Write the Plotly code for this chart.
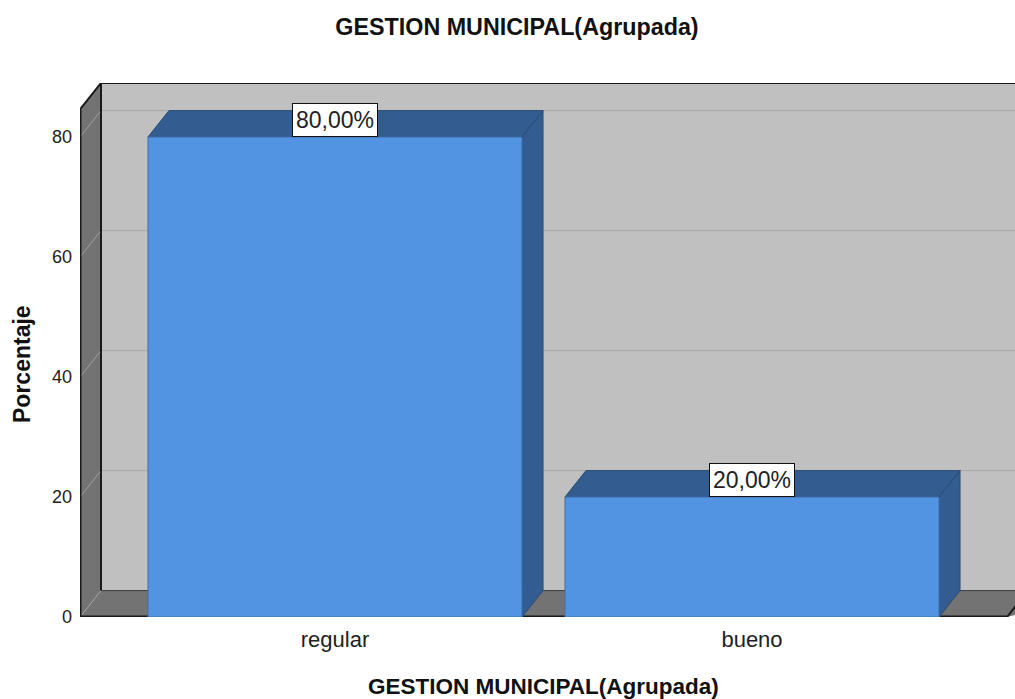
import plotly.graph_objects as go

# data
categorias = ["regular", "bueno"]
porcentajes = [80.0, 20.0]
etiquetas = ["80,00%", "20,00%"]
y_ticks = [0, 20, 40, 60, 80]
titulo = "GESTION MUNICIPAL(Agrupada)"

W, H = 1015, 699
ML, MT, MB = 80, 83, 82
PW, PH = W - ML, H - MT - MB

# 3D look settings
DX = 21 / 417      # depth offset in x units
DY = 4.4           # depth offset in y units
BAR_W = 0.897
X_LO, X_HI = -0.6115, 1.6307
FRONT_R = 1.6115
Y_MAX = 89.0
WALL_TOP = Y_MAX - DY

WALL = "#C0C0C0"
SIDE = "#737373"
FRONT = "#5294E2"
DARK = "#335D91"
FONT = "Arial, Liberation Sans"


def poly(pts):
    return "M " + " L ".join(f"{x},{y}" for x, y in pts) + " Z"


def seg(x0, y0, x1, y1, color="#1a1a1a", width=2):
    return dict(type="line", xref="x", yref="y", x0=x0, y0=y0, x1=x1, y1=y1,
                line=dict(color=color, width=width), layer="below")


def px_x(x):  # pixel -> paper x
    return (x - ML) / PW


def px_y(y):  # pixel -> paper y
    return (H - MB - y) / PH


shapes = []
# back wall
shapes.append(dict(type="path", xref="x", yref="y", layer="below",
                   path=poly([(X_LO + DX, DY), (X_LO + DX, Y_MAX), (FRONT_R + DX + 0.2, Y_MAX), (FRONT_R + DX + 0.2, DY)]),
                   fillcolor=WALL, line=dict(width=0)))
# gridlines on back wall
for t in y_ticks[1:]:
    shapes.append(seg(X_LO + DX, t + DY, FRONT_R + DX + 0.2, t + DY, color="#A9A9A9", width=1))
# left wall
shapes.append(dict(type="path", xref="x", yref="y", layer="below",
                   path=poly([(X_LO, 0), (X_LO, WALL_TOP), (X_LO + DX, Y_MAX), (X_LO + DX, DY)]),
                   fillcolor=SIDE, line=dict(width=0)))
# floor
shapes.append(dict(type="path", xref="x", yref="y", layer="below",
                   path=poly([(X_LO, 0), (X_LO + DX, DY), (FRONT_R + DX + 0.2, DY), (FRONT_R, 0)]),
                   fillcolor=SIDE, line=dict(width=0)))
# diagonal tick lines on left wall
for t in y_ticks:
    shapes.append(seg(X_LO, t, X_LO + DX, t + DY, color="#A0A0A0", width=1))
# edges
shapes.append(seg(X_LO + DX, DY, X_LO + DX, Y_MAX, width=2))
shapes.append(seg(X_LO + DX, DY, FRONT_R + DX + 0.2, DY, color="#3a3a3a", width=1))
shapes.append(seg(X_LO, WALL_TOP, X_LO + DX, Y_MAX))
shapes.append(seg(X_LO + DX, Y_MAX, X_HI + 0.1, Y_MAX))
shapes.append(seg(X_LO, 0, X_LO, WALL_TOP, width=3))
shapes.append(seg(X_LO, 0, FRONT_R, 0, width=3))
shapes.append(seg(FRONT_R, 0, FRONT_R + DX, DY, width=2))

# bar top and side faces
for i, v in enumerate(porcentajes):
    l, r = i - BAR_W / 2, i + BAR_W / 2
    shapes.append(dict(type="path", xref="x", yref="y", layer="below",
                       path=poly([(l, v), (l + DX, v + DY), (r + DX, v + DY), (r, v)]),
                       fillcolor=DARK, line=dict(color="#2a4a75", width=1)))
    shapes.append(dict(type="path", xref="x", yref="y", layer="below",
                       path=poly([(r, 0), (r, v), (r + DX, v + DY), (r + DX, DY)]),
                       fillcolor=DARK, line=dict(color="#2a4a75", width=1)))

fig = go.Figure()
fig.add_trace(go.Bar(x=list(range(len(categorias))), y=porcentajes, width=BAR_W,
                     marker=dict(color=FRONT, line=dict(color="#3f6fa8", width=1)),
                     hoverinfo="skip", showlegend=False))

annotations = []
for i, (v, txt) in enumerate(zip(porcentajes, etiquetas)):
    annotations.append(dict(x=i, y=v, xref="x", yref="y", text=txt, showarrow=False,
                            yanchor="bottom", xanchor="center",
                            font=dict(family=FONT, size=23, color="#222"),
                            bgcolor="white", bordercolor="#111", borderwidth=1, borderpad=3))

annotations.append(dict(x=px_x(543), y=px_y(686), xref="paper", yref="paper",
                        text="<b>" + titulo + "</b>", showarrow=False,
                        xanchor="center", yanchor="middle",
                        font=dict(family=FONT, size=22.5, color="#111")))
annotations.append(dict(x=px_x(22), y=px_y(364), xref="paper", yref="paper",
                        text="<b>Porcentaje</b>", showarrow=False, textangle=-90,
                        xanchor="center", yanchor="middle",
                        font=dict(family=FONT, size=23, color="#111")))

fig.update_layout(
    width=W, height=H,
    margin=dict(l=ML, r=0, t=MT, b=MB),
    paper_bgcolor="white", plot_bgcolor="white",
    title=dict(text="<b>" + titulo + "</b>", x=517 / W, xanchor="center",
               y=1 - 27 / H, yanchor="middle",
               font=dict(family=FONT, size=23.3, color="#111")),
    shapes=shapes,
    annotations=annotations,
    xaxis=dict(range=[X_LO, X_HI], tickvals=list(range(len(categorias))), ticktext=categorias,
               showgrid=False, zeroline=False, showline=False, ticks="",
               ticklabelstandoff=7,
               tickfont=dict(family=FONT, size=22, color="#222")),
    yaxis=dict(range=[0, Y_MAX], tickvals=y_ticks, showgrid=False, zeroline=False,
               showline=False, ticks="", ticklabelstandoff=7,
               tickfont=dict(family=FONT, size=18, color="#222")),
)

# remove the default page margin so the figure fills the window exactly
fig.write_html("out.html", config={"displayModeBar": False},
               post_script="document.body.style.margin='0';document.body.style.overflow='hidden';")
